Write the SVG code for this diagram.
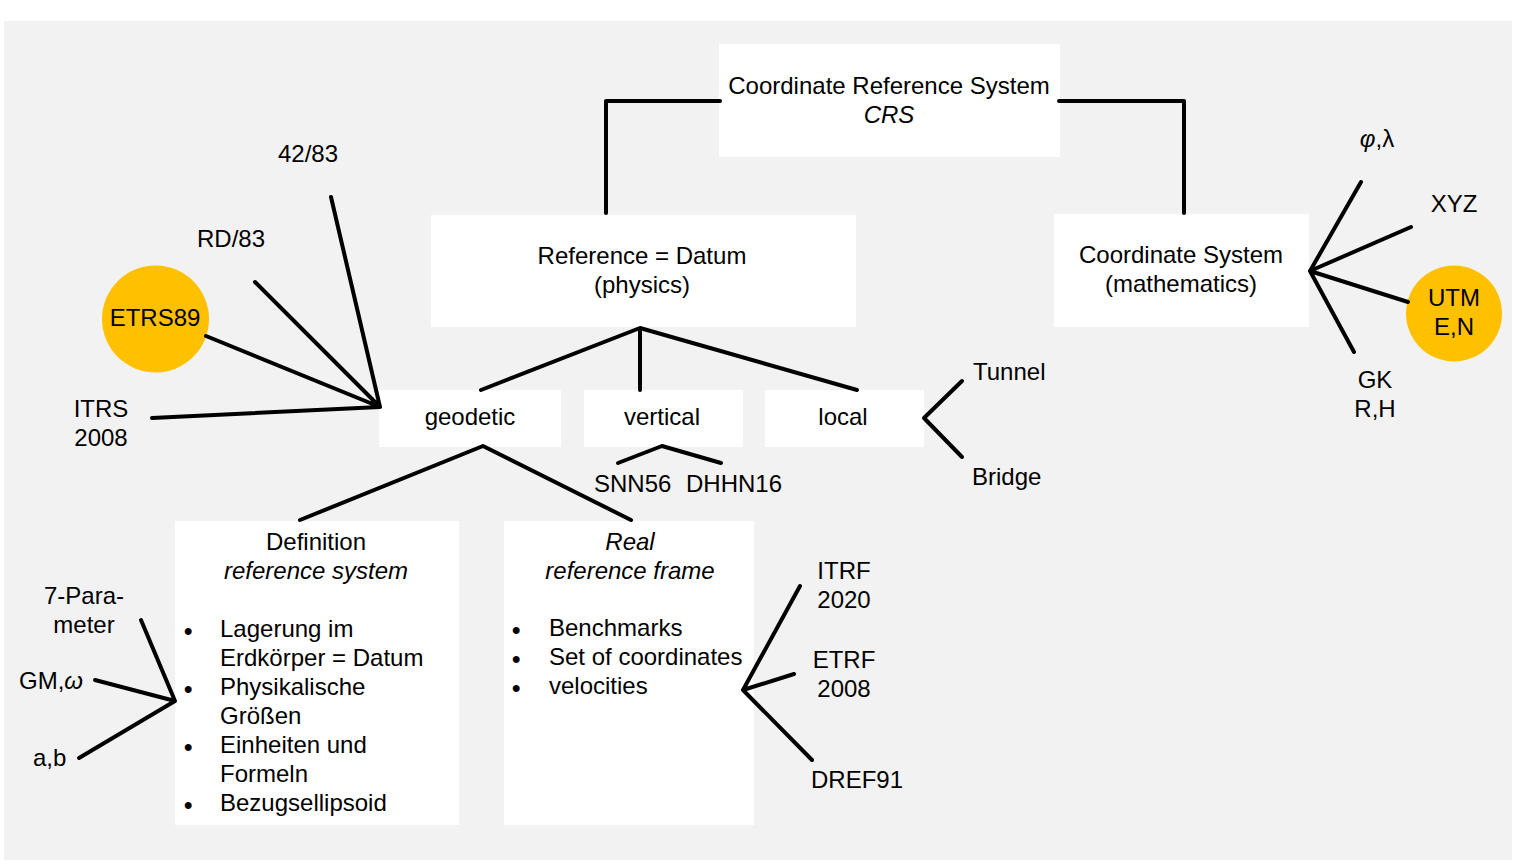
<svg xmlns="http://www.w3.org/2000/svg" width="1515" height="868" viewBox="0 0 1515 868">
<style>
text{font-family:"Liberation Sans",Arial,sans-serif;font-size:24px;fill:#000}
.m{text-anchor:middle}
.i{font-style:italic}
.b{font-weight:bold}
.box{fill:#fff}
.circ{fill:#ffc000}
.ln{fill:none;stroke:#000;stroke-width:4;stroke-linecap:round;stroke-linejoin:round}
</style>
<rect x="0" y="0" width="1515" height="868" fill="#fff"/>
<rect x="4" y="21" width="1508" height="839" fill="#f2f2f2"/>

<g id="crs">
<rect class="box" x="719" y="44" width="341" height="113"/>
<text class="m" x="889" y="94">Coordinate Reference System</text>
<text class="m i" x="889" y="123">CRS</text>
</g>

<g id="datum">
<rect class="box" x="431" y="215" width="425" height="112"/>
<text class="m" x="642" y="264">Reference = Datum</text>
<text class="m" x="642" y="293">(physics)</text>
</g>

<g id="coordsys">
<rect class="box" x="1054" y="214" width="255" height="113"/>
<text class="m" x="1181" y="263">Coordinate System</text>
<text class="m" x="1181" y="292">(mathematics)</text>
</g>

<g id="geodetic">
<rect class="box" x="379" y="390" width="182" height="57"/>
<text class="m" x="470" y="425">geodetic</text>
</g>

<g id="vertical">
<rect class="box" x="584" y="390" width="159" height="57"/>
<text class="m" x="662" y="425">vertical</text>
</g>

<g id="local">
<rect class="box" x="765" y="390" width="159" height="57"/>
<text class="m" x="843" y="425">local</text>
</g>

<g id="definition">
<rect class="box" x="175" y="521" width="284" height="304"/>
<text class="m" x="316" y="550">Definition</text>
<text class="m i" x="316" y="579">reference system</text>
<text class="b" x="184" y="639">•</text><text x="220" y="637">Lagerung im</text>
<text x="220" y="666">Erdkörper = Datum</text>
<text class="b" x="184" y="697">•</text><text x="220" y="695">Physikalische</text>
<text x="220" y="724">Größen</text>
<text class="b" x="184" y="755">•</text><text x="220" y="753">Einheiten und</text>
<text x="220" y="782">Formeln</text>
<text class="b" x="184" y="813">•</text><text x="220" y="811">Bezugsellipsoid</text>
</g>

<g id="realframe">
<rect class="box" x="504" y="521" width="250" height="304"/>
<text class="m i" x="630" y="550">Real</text>
<text class="m i" x="630" y="579">reference frame</text>
<text class="b" x="512" y="638">•</text><text x="549" y="636">Benchmarks</text>
<text class="b" x="512" y="667">•</text><text x="549" y="665">Set of coordinates</text>
<text class="b" x="512" y="696">•</text><text x="549" y="694">velocities</text>
</g>

<g id="etrs89">
<circle class="circ" cx="155.5" cy="319" r="53.5"/>
<text class="m" x="155" y="326">ETRS89</text>
</g>
<g id="rd83"><text x="197" y="247">RD/83</text></g>
<g id="l4283"><text x="278" y="162">42/83</text></g>
<g id="itrs2008">
<text class="m" x="101" y="417">ITRS</text>
<text class="m" x="101" y="446">2008</text>
</g>

<g id="snn56"><text x="594" y="492">SNN56</text></g>
<g id="dhhn16"><text x="686" y="492">DHHN16</text></g>
<g id="tunnel"><text x="973" y="380">Tunnel</text></g>
<g id="bridge"><text x="972" y="485">Bridge</text></g>

<g id="philambda"><text class="m" x="1377" y="147"><tspan class="i">φ</tspan>,λ</text></g>
<g id="xyz"><text class="m" x="1454" y="212">XYZ</text></g>
<g id="utm">
<circle class="circ" cx="1454" cy="313.5" r="48"/>
<text class="m" x="1454" y="306">UTM</text>
<text class="m" x="1454" y="335">E,N</text>
</g>
<g id="gk">
<text class="m" x="1375" y="388">GK</text>
<text class="m" x="1375" y="417">R,H</text>
</g>

<g id="sevenparam">
<text class="m" x="84" y="604">7-Para-</text>
<text class="m" x="84" y="633">meter</text>
</g>
<g id="gm"><text x="19" y="689">GM,<tspan class="i">ω</tspan></text></g>
<g id="ab"><text x="33" y="766">a,b</text></g>

<g id="itrf2020">
<text class="m" x="844" y="579">ITRF</text>
<text class="m" x="844" y="608">2020</text>
</g>
<g id="etrf2008">
<text class="m" x="844" y="668">ETRF</text>
<text class="m" x="844" y="697">2008</text>
</g>
<g id="dref91"><text x="811" y="788">DREF91</text></g>

<g id="connectors">
<path class="ln" d="M720,101 H606 V213"/>
<path class="ln" d="M1059,101 H1184 V213"/>
<path class="ln" d="M481,390 L640,328 L857,390 M640,328 V390"/>
<path class="ln" d="M300,520 L483,446 L631,520"/>
<path class="ln" d="M618,463 L662,446 L721,463"/>
<path class="ln" d="M962,381 L924,418 L962,457"/>
<path class="ln" d="M331,197 L380,407 L255,282 M206,336 L380,407 L152,418"/>
<path class="ln" d="M1361,182 L1310,271 L1411,227 M1408,302 L1310,271 L1354,352"/>
<path class="ln" d="M141,620 L175,701 L95,680 M175,701 L79,758"/>
<path class="ln" d="M800,586 L743,690 L794,674 M743,690 L812,760"/>
</g>
</svg>
